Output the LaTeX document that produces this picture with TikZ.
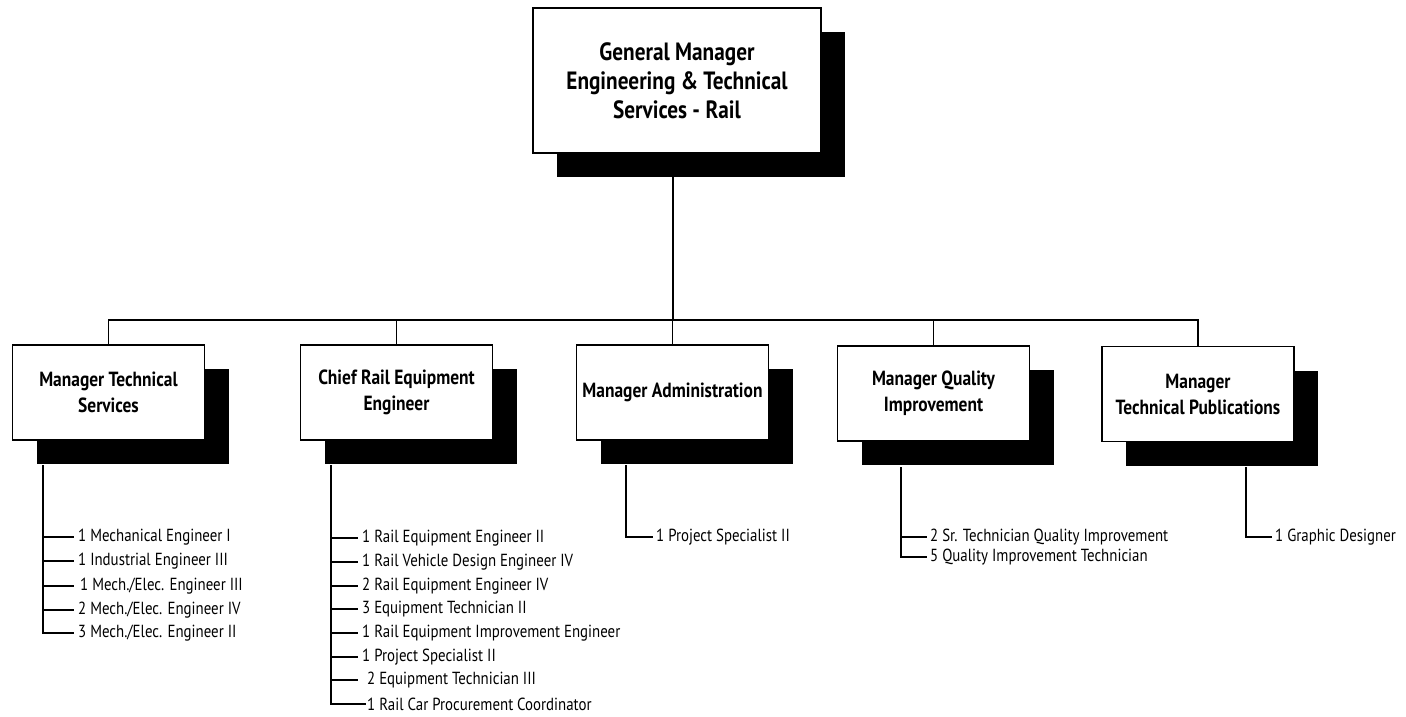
\documentclass[tikz,border=0pt]{standalone}
\usepackage{fontspec}
\setmainfont{PT Sans}[FakeStretch=0.85]
\usetikzlibrary{shadows}
\begin{document}
\begin{tikzpicture}[x=1pt,y=-1pt,
  unitbox/.style={draw, fill=white, line width=1.5pt, align=center,
    minimum width=192pt, minimum height=95pt, inner sep=2pt,
    font=\fontsize{20.5}{26}\selectfont\bfseries,
    drop shadow={shadow xshift=24pt, shadow yshift=-24pt, fill=black, opacity=1}},
  topbox/.style={unitbox, minimum width=288pt, minimum height=145pt,
    font=\fontsize{25}{29}\selectfont\bfseries},
  link/.style={line width=1.5pt},
  staff/.style={anchor=west, inner sep=0pt, font=\fontsize{17.5}{20}\selectfont}]
\useasboundingbox (0,0) rectangle (1406,717);

% top position
\node[topbox] (gm) at (677,80.5) {General Manager\\Engineering \& Technical\\Services - Rail};
\coordinate (gmout) at (673,177);
\coordinate (bar) at (673,320);

% department heads
\node[unitbox] (ts)  at (108.5,392.5) {Manager Technical\\Services};
\node[unitbox] (cre) at (396.5,392.5) {Chief Rail Equipment\\Engineer};
\node[unitbox] (adm) at (672.5,392.5) {Manager Administration};
\node[unitbox] (qi)  at (933.5,393.5) {Manager Quality\\Improvement};
\node[unitbox] (tp)  at (1198,394)    {Manager\\Technical Publications};

% reporting lines to the general manager
\draw[link] (gmout) -- (bar);
\draw[link] (ts.north) -- (ts.north |- bar) -- (tp.north |- bar) -- (tp.north);
\draw[link] (cre.north) -- (cre.north |- bar);
\draw[link] (adm.north) -- (adm.north |- bar);
\draw[link] (qi.north) -- (qi.north |- bar);

% Manager Technical Services staff
\coordinate (tsout) at (43,465);
\node[staff] (ts1) at (78,537) {1 Mechanical Engineer I};
\node[staff] (ts2) at (78,561) {1 Industrial Engineer III};
\node[staff] (ts3) at (80,586) {1 Mech./Elec. Engineer III};
\node[staff] (ts4) at (78,610) {2 Mech./Elec. Engineer IV};
\node[staff] (ts5) at (78,633) {3 Mech./Elec. Engineer II};
\draw[link] (tsout) |- ([xshift=-4pt]ts5.west);
\foreach \n in {ts1,ts2,ts4}
  \draw[link] (tsout |- \n.west) -- ([xshift=-4pt]\n.west);
\draw[link] (tsout |- ts3.west) -- ([xshift=-6pt]ts3.west);

% Chief Rail Equipment Engineer staff
\coordinate (creout) at (331,465);
\node[staff] (c1) at (362,538) {1 Rail Equipment Engineer II};
\node[staff] (c2) at (362,562) {1 Rail Vehicle Design Engineer IV};
\node[staff] (c3) at (362,586) {2 Rail Equipment Engineer IV};
\node[staff] (c4) at (362,609) {3 Equipment Technician II};
\node[staff] (c5) at (362,633) {1 Rail Equipment Improvement Engineer};
\node[staff] (c6) at (362,657) {1 Project Specialist II};
\node[staff] (c7) at (367,680) {2 Equipment Technician III};
\node[staff] (c8) at (367,704) {1 Rail Car Procurement Coordinator};
\draw[link] (creout) |- ([xshift=-1pt]c8.west);
\foreach \n in {c1,c2,c3,c4,c5,c6}
  \draw[link] (creout |- \n.west) -- ([xshift=-4pt]\n.west);
\draw[link] (creout |- c7.west) -- ([xshift=-9pt]c7.west);

% Manager Administration staff
\coordinate (admout) at (626,465);
\node[staff] (a1) at (656,537) {1 Project Specialist II};
\draw[link] (admout) |- ([xshift=-3pt]a1.west);

% Manager Quality Improvement staff
\coordinate (qiout) at (901,467);
\node[staff] (q1) at (930,537) {2 Sr. Technician Quality Improvement};
\node[staff] (q2) at (930,557) {5 Quality Improvement Technician};
\draw[link] (qiout) |- ([xshift=-3pt]q2.west);
\draw[link] (qiout |- q1.west) -- ([xshift=-3pt]q1.west);

% Manager Technical Publications staff
\coordinate (tpout) at (1246,467);
\node[staff] (p1) at (1275,537) {1 Graphic Designer};
\draw[link] (tpout) |- ([xshift=-3pt]p1.west);
\end{tikzpicture}
\end{document}
